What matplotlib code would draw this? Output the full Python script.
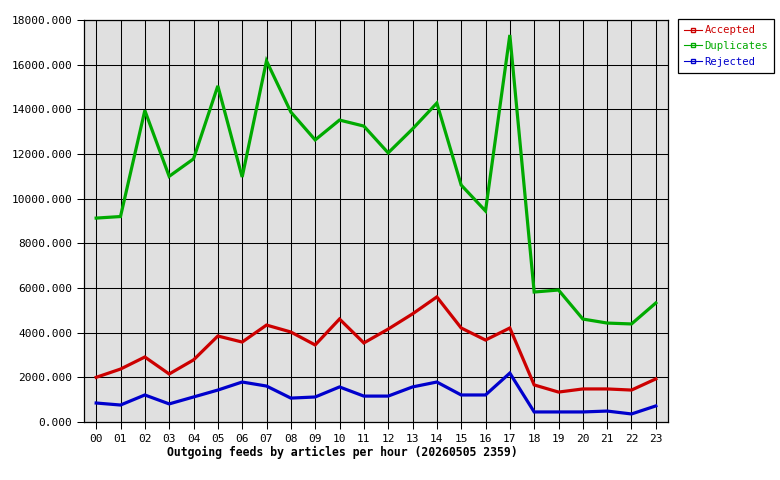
import matplotlib
matplotlib.use("Agg")
import matplotlib.pyplot as plt

hours = ["%02d" % h for h in range(24)]
accepted = [2000, 2370, 2910, 2150, 2780, 3850, 3580, 4340, 4030, 3450, 4610, 3540,
            4160, 4840, 5600, 4210, 3670, 4210, 1660, 1340, 1480, 1480, 1430, 1930]
duplicates = [9130, 9200, 13950, 11000, 11780, 15050, 10970, 16170, 13880, 12630, 13520, 13250,
              12050, 13120, 14280, 10610, 9450, 17330, 5820, 5910, 4610, 4430, 4390, 5330]
rejected = [850, 760, 1210, 810, 1120, 1430, 1790, 1610, 1070, 1120, 1570, 1160,
            1160, 1570, 1790, 1210, 1210, 2190, 450, 450, 450, 490, 360, 720]
yticks = list(range(0, 18001, 2000))

plt.rcParams['font.family'] = ['DejaVu Sans Mono']

fig = plt.figure(figsize=(7.8, 4.8), dpi=100)
ax = fig.add_axes([84 / 780, 1 - 422 / 480, 584 / 780, 402 / 480])
ax.set_facecolor('#e0e0e0')

x = list(range(len(hours)))
series = [("Accepted", accepted, '#cc0000'),
          ("Duplicates", duplicates, '#00aa00'),
          ("Rejected", rejected, '#0000cc')]
handles = []
for name, vals, col in series:
    ax.plot(x, vals, color=col, lw=2.3, solid_joinstyle='miter', zorder=3)
    h, = ax.plot([], [], color=col, lw=0.8, marker='s', markersize=2.5,
                 markerfacecolor='none', markeredgecolor=col, label=name)
    handles.append(h)

ax.set_xlim(-0.5, 23.5)
ax.set_ylim(0, 18000)
ax.set_xticks(x)
ax.set_xticklabels(hours, fontsize=8)
ax.set_yticks(yticks)
ax.set_yticklabels(["%.3f" % v for v in yticks], fontsize=8)
ax.grid(True, color='black', lw=0.75)
ax.tick_params(length=5, width=0.75, color='black')
for s in ax.spines.values():
    s.set_color('black')
    s.set_linewidth(0.9)

# title sits under the axis, a bit left of center like the original
fig.text(342 / 780, 1 - 452 / 480, "Outgoing feeds by articles per hour (20260505 2359)",
         fontsize=8.3, fontweight='bold', ha='center', va='center')

leg = fig.legend(handles=handles, loc='upper left',
                 bbox_to_anchor=(678 / 780, 1 - 19 / 480), fontsize=7.6,
                 fancybox=False, edgecolor='black', framealpha=1,
                 handlelength=1.7, handletextpad=0.2, borderpad=0.6,
                 labelspacing=0.55, borderaxespad=0)
leg.get_frame().set_linewidth(0.9)
for t, (_, _, col) in zip(leg.get_texts(), series):
    t.set_color(col)

fig.savefig("out.png", dpi=100)
